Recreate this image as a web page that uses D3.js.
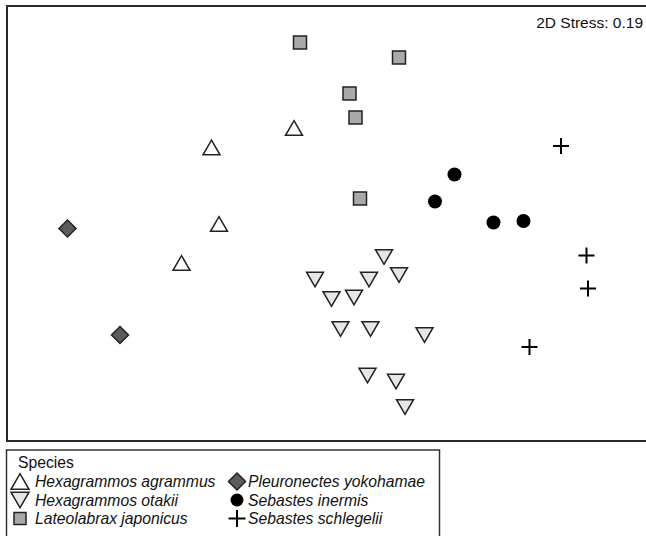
<!DOCTYPE html>
<html>
<head>
<meta charset="utf-8">
<script src="https://cdn.jsdelivr.net/npm/d3@7"></script>
<style>
  body { margin: 0; background: #fff; }
  svg { display: block; font-family: Arial, "Liberation Sans", sans-serif; }
</style>
</head>
<body>
<svg id="chart" width="646" height="536"></svg>
<script>

// nMDS ordination scores (arbitrary units)
const species = ["Hexagrammos agrammus", "Hexagrammos otakii", "Lateolabrax japonicus",
                 "Pleuronectes yokohamae", "Sebastes inermis", "Sebastes schlegelii"];

const agrammus = [[-0.24, 0.68], [-0.79, 0.55], [-0.74, 0.04], [-0.99, -0.22]];
const otakii = [[0.36, -0.18], [-0.10, -0.33], [0.26, -0.33], [0.46, -0.30],
                [0.01, -0.46], [0.16, -0.45], [0.07, -0.66], [0.27, -0.66],
                [0.63, -0.70], [0.25, -0.97], [0.44, -1.01], [0.50, -1.18]];
const japonicus = [[-0.20, 1.25], [0.46, 1.15], [0.13, 0.91], [0.17, 0.75], [0.20, 0.21]];
const yokohamae = [[-1.75, 0.01], [-1.40, -0.70]];
const inermis = [[0.83, 0.37], [0.70, 0.19], [1.09, 0.05], [1.29, 0.06]];
const schlegelii = [[1.54, 0.56], [1.71, -0.17], [1.72, -0.39], [1.33, -0.78]];

const stress = 0.19;

// symbol style per species
const shapes = ["triUp", "triDown", "square", "diamond", "circle", "plus"];
const fills = ["#ffffff", "#e6e6e6", "#a9a9a9", "#5c5c5c", "#000000", "none"];

const svg = d3.select("#chart");

const x = d3.scaleLinear().domain([-2.16, 2.16]).range([6, 654]);
const y = d3.scaleLinear().domain([-1.4067, 1.4933]).range([441, 6]);

function shapePath(kind, w){
        let p = d3.path();
        let h = w * 0.866;
        if(kind === "triUp"){
                p.moveTo(0, -h/2); p.lineTo(w/2, h/2); p.lineTo(-w/2, h/2); p.closePath();
        }else if(kind === "triDown"){
                p.moveTo(0, h/2); p.lineTo(w/2, -h/2); p.lineTo(-w/2, -h/2); p.closePath();
        }else if(kind === "square"){
                p.rect(-w/2, -w/2, w, w);
        }else if(kind === "diamond"){
                p.moveTo(0, -w/2); p.lineTo(w/2, 0); p.lineTo(0, w/2); p.lineTo(-w/2, 0); p.closePath();
        }else if(kind === "circle"){
                p.arc(0, 0, w/2, 0, 2 * Math.PI);
        }else{
                p.moveTo(-w/2, 0); p.lineTo(w/2, 0); p.moveTo(0, -w/2); p.lineTo(0, w/2);
        }
        return p.toString();
}

function drawSymbol(g, idx, w){
        let kind = shapes[idx];
        g.append("path")
                .attr("d", shapePath(kind, w))
                .attr("fill", fills[idx])
                .attr("stroke", kind === "circle" ? "none" : (kind === "plus" ? "#000" : "#222"))
                .attr("stroke-width", kind === "plus" ? 2 : 1.5)
                .attr("stroke-linejoin", "miter");
}

// plot frame (right side runs off the picture)
svg.append("rect")
        .attr("x", 7).attr("y", 6)
        .attr("width", 700).attr("height", 435)
        .attr("fill", "none")
        .attr("stroke", "#2a2a2a")
        .attr("stroke-width", 2);

svg.append("text")
        .attr("x", 643).attr("y", 28)
        .attr("text-anchor", "end")
        .attr("font-size", 15.5)
        .attr("fill", "#111")
        .text(`2D Stress: ${stress.toFixed(2)}`);

// points
const groups = [agrammus, otakii, japonicus, yokohamae, inermis, schlegelii];
const plotSize = [17, 17, 13, 17, 14, 16];

groups.forEach((pts, idx) => {
        pts.forEach(d => {
                let g = svg.append("g")
                        .attr("transform", `translate(${x(d[0])}, ${y(d[1])})`);
                drawSymbol(g, idx, plotSize[idx]);
        });
});

// legend
const legend = svg.append("g");

legend.append("rect")
        .attr("x", 6.5).attr("y", 450)
        .attr("width", 433).attr("height", 120)
        .attr("fill", "#fff")
        .attr("stroke", "#333")
        .attr("stroke-width", 1.5);

legend.append("text")
        .attr("x", 18).attr("y", 468)
        .attr("font-size", 15.7)
        .attr("fill", "#111")
        .text("Species");

const legSize = [18, 18, 12, 17, 13, 17];

species.forEach((name, idx) => {
        let col = Math.floor(idx / 3);
        let row = idx % 3;
        let sx = col ? 237 : 20;
        let base = 487 + row * 18.5;
        let g = legend.append("g")
                .attr("transform", `translate(${sx}, ${base - 5.5})`);
        drawSymbol(g, idx, legSize[idx]);
        legend.append("text")
                .attr("x", col ? 248 : 35)
                .attr("y", base)
                .attr("font-size", 15.7)
                .attr("font-style", "italic")
                .attr("fill", "#111")
                .text(name);
});

</script>
</body>
</html>
